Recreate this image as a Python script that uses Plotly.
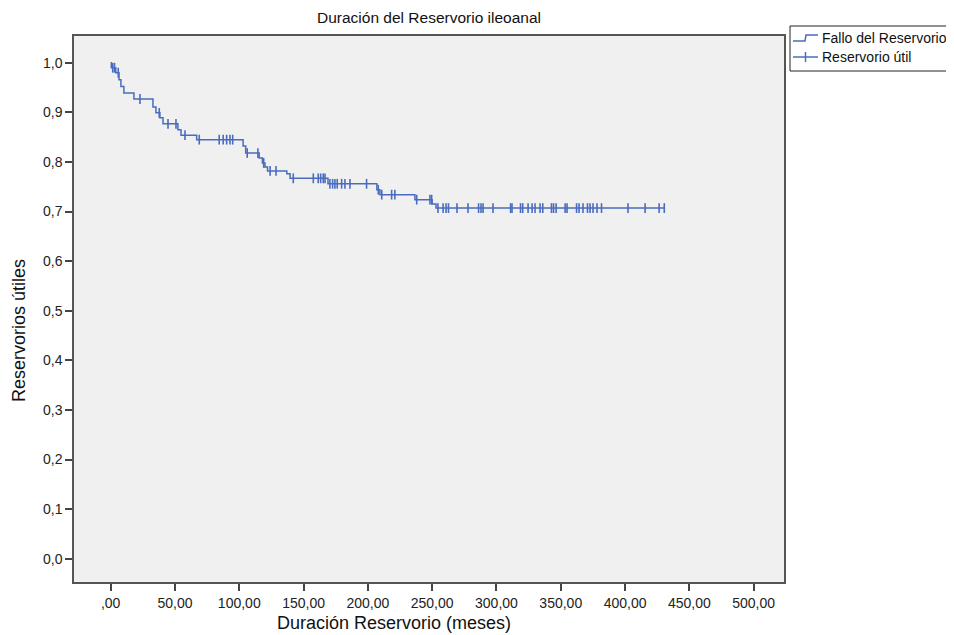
import numpy as np
import plotly.graph_objects as go

# Kaplan-Meier: event times (months) and survival after each event
tiempos_evento = [0.5, 4, 6.5, 8, 10.3, 18.1, 32.9, 35.2, 38.3, 40.7, 52.3, 54.7, 66.9,
                  103, 105, 115.5, 118, 120, 122, 137, 139.5, 169, 207, 209.4, 236.6, 250, 253]
supervivencia = [0.99, 0.98, 0.966, 0.952, 0.939, 0.927, 0.911, 0.899, 0.889, 0.877, 0.865,
                 0.854, 0.845, 0.832, 0.818, 0.808, 0.798, 0.790, 0.782, 0.776, 0.767, 0.756,
                 0.744, 0.734, 0.724, 0.715, 0.707]
tiempo_final = 431

# censored observations (months)
tiempos_censura = [1.6, 3, 5.9, 22.8, 37.8, 44.6, 50.8, 57.8, 68.9, 84.4, 87.5, 90.2, 92.8, 94.9,
                   106.2, 114.5, 119, 124, 128.6, 142, 157.6, 161.4, 163.3, 165.3, 166.7,
                   170.5, 172.6, 174.4, 176.2, 179.6, 182.2, 186.1, 199, 208.1, 210.8, 218.5, 221,
                   238, 248.3, 249.6, 254.5, 258.5, 260.8, 262.7, 269.3, 277.9, 286.1, 288.0, 289.6,
                   297.3, 311.0, 312.1, 318.7, 320.4, 324.6, 327.7, 330.0, 333.9, 336.0, 342.8,
                   344.4, 346.4, 353.4, 354.9, 362.3, 364.2, 367.3, 370.8, 372.8, 375.1, 378.2,
                   381.7, 402.3, 415.6, 426.5, 430.5]

x_ticks = [0, 50, 100, 150, 200, 250, 300, 350, 400, 450, 500]
x_ticktext = [",00", "50,00", "100,00", "150,00", "200,00", "250,00", "300,00",
              "350,00", "400,00", "450,00", "500,00"]
y_ticks = [0, 0.1, 0.2, 0.3, 0.4, 0.5, 0.6, 0.7, 0.8, 0.9, 1.0]
y_ticktext = ["0,0", "0,1", "0,2", "0,3", "0,4", "0,5", "0,6", "0,7", "0,8", "0,9", "1,0"]

leyenda = ["Fallo del Reservorio", "Reservorio útil"]

color = "#4a6cbf"

# step curve
xs = [0] + list(tiempos_evento) + [tiempo_final]
ys = [1.0] + list(supervivencia) + [supervivencia[-1]]

# censor y from the step function
ev = np.array(tiempos_evento)
cy = []
for c in tiempos_censura:
    i = np.searchsorted(ev, c, side="right")
    cy.append(1.0 if i == 0 else supervivencia[i - 1])

fig = go.Figure()
fig.add_trace(go.Scatter(x=xs, y=ys, mode="lines", line=dict(shape="hv", color=color, width=1.5),
                         name=leyenda[0], showlegend=False))
fig.add_trace(go.Scatter(x=tiempos_censura, y=cy, mode="markers",
                         marker=dict(symbol="line-ns", size=7, line=dict(color=color, width=1.6)),
                         name=leyenda[1], showlegend=False))

# page has an 8px body margin: figure placed at (8, 8)
OFF = 8
W, H = 954 - OFF, 635 - OFF
L, R, T, B = 74, 784, 36, 582  # plot area in page pixels


def px(X):
    return (X - L) / (R - L)


def py(Y):
    return (B - Y) / (B - T)


font_family = "Liberation Sans, Arial, Helvetica, sans-serif"
fig.update_layout(
    width=W, height=H,
    margin=dict(l=L - OFF, r=954 - R, t=T - OFF, b=H - (B - OFF)),
    paper_bgcolor="white", plot_bgcolor="#f0f0f0",
    font=dict(family=font_family, color="#222", size=14),
    title=dict(text="Duración del Reservorio ileoanal", x=((L + R) / 2 - OFF) / W, xanchor="center",
               y=1 - (18 - OFF) / H, yanchor="middle",
               font=dict(size=15.5, color="#111")),
    showlegend=False,
)
fig.update_xaxes(range=[-28.5, 523.6], tickvals=x_ticks, ticktext=x_ticktext, showgrid=False,
                 zeroline=False, showline=True, linecolor="#555", linewidth=1.5, mirror=True,
                 ticks="outside", ticklen=7, tickwidth=1.5, tickcolor="#444",
                 tickfont=dict(size=14, color="#222"))
fig.update_yaxes(range=[-0.047, 1.054], tickvals=y_ticks, ticktext=y_ticktext, showgrid=False,
                 zeroline=False, showline=True, linecolor="#555", linewidth=1.5, mirror=True,
                 ticks="outside", ticklen=7, tickwidth=1.5, tickcolor="#444",
                 tickfont=dict(size=14, color="#222"))

# axis titles
fig.add_annotation(text="Duración Reservorio (meses)", xref="paper", yref="paper",
                   x=px(394), y=py(623), xanchor="center", yanchor="middle",
                   showarrow=False, font=dict(size=18, color="#111"))
fig.add_annotation(text="Reservorios útiles", xref="paper", yref="paper",
                   x=px(19), y=py(331), xanchor="center", yanchor="middle",
                   textangle=-90, showarrow=False, font=dict(size=18, color="#111"))

# legend drawn by hand (box, step icon, plus icon, labels)
lx0, lx1, ly0, ly1 = 790, 952, 26, 71
row1, row2 = 38, 57
fig.add_shape(type="rect", xref="paper", yref="paper", x0=px(lx0), x1=px(lx1), y0=py(ly0), y1=py(ly1),
              line=dict(color="#222", width=1), fillcolor="white", layer="above")
fig.add_shape(type="path", xref="paper", yref="paper",
              path=f"M {px(793)},{py(row1 + 3)} L {px(805)},{py(row1 + 3)} L {px(806)},{py(row1 - 3)} L {px(818)},{py(row1 - 3)}",
              line=dict(color=color, width=1.5))
fig.add_shape(type="line", xref="paper", yref="paper", x0=px(793), x1=px(818), y0=py(row2), y1=py(row2),
              line=dict(color=color, width=1.5))
fig.add_shape(type="line", xref="paper", yref="paper", x0=px(805.5), x1=px(805.5), y0=py(row2 - 5), y1=py(row2 + 5),
              line=dict(color=color, width=1.5))
fig.add_annotation(text=leyenda[0], xref="paper", yref="paper", x=px(820), y=py(row1),
                   xanchor="left", yanchor="middle", showarrow=False, font=dict(size=14, color="#111"))
fig.add_annotation(text=leyenda[1], xref="paper", yref="paper", x=px(820), y=py(row2),
                   xanchor="left", yanchor="middle", showarrow=False, font=dict(size=14, color="#111"))

fig.write_html("out.html")
